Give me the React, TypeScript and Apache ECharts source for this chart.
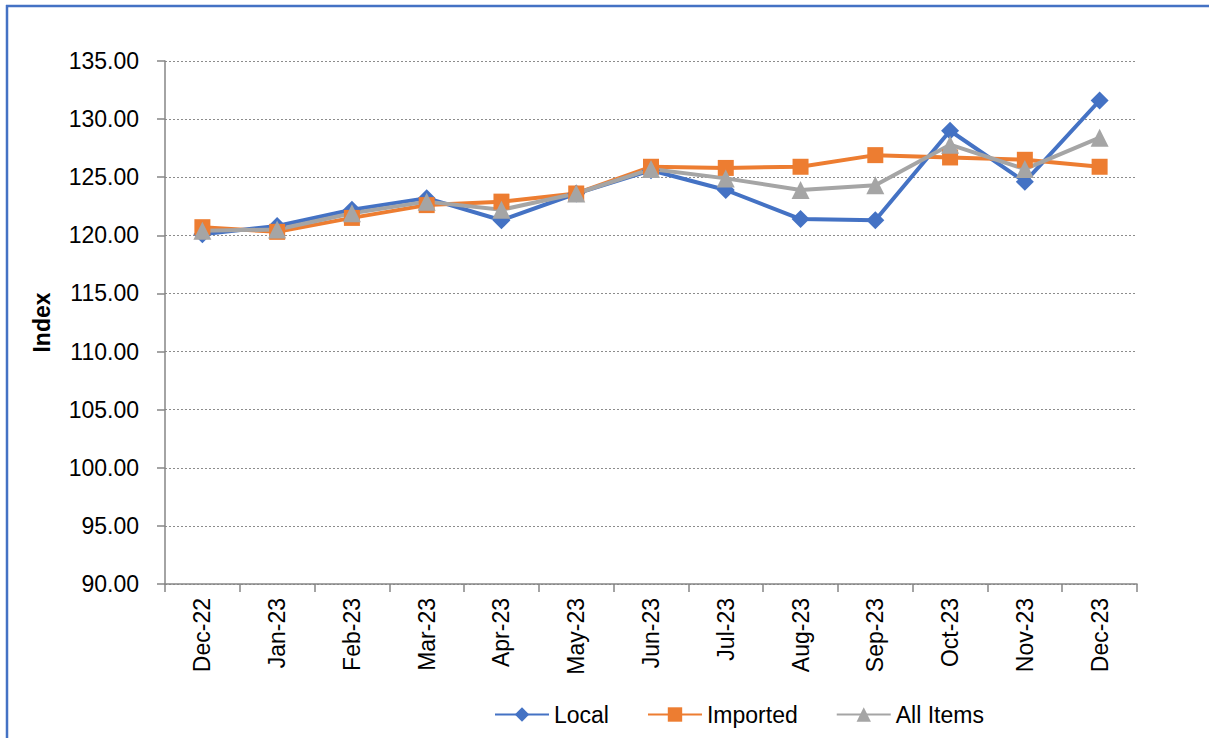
import React, { useEffect, useRef } from "react";
import * as echarts from "echarts";

const categories = ["Dec-22", "Jan-23", "Feb-23", "Mar-23", "Apr-23", "May-23", "Jun-23", "Jul-23", "Aug-23", "Sep-23", "Oct-23", "Nov-23", "Dec-23"];
const localValues = [120.1, 120.8, 122.2, 123.2, 121.3, 123.6, 125.6, 123.9, 121.4, 121.3, 129.0, 124.6, 131.6];
const importedValues = [120.7, 120.3, 121.5, 122.6, 122.9, 123.6, 125.9, 125.8, 125.9, 126.9, 126.7, 126.5, 125.9];
const allItemsValues = [120.4, 120.5, 121.9, 122.9, 122.2, 123.6, 125.7, 124.9, 123.9, 124.3, 127.8, 125.7, 128.4];

const FONT = "'Liberation Sans', Arial, sans-serif";

export default function App() {
  const ref = useRef<HTMLDivElement>(null);
  useEffect(() => {
    if (!ref.current) return;
    const chart = echarts.init(ref.current, undefined, { renderer: "svg" });
    const mk = (name: string, data: number[], color: string, symbol: string, size: number) => ({
      name,
      type: "line",
      data,
      symbol,
      symbolSize: size,
      showAllSymbol: true,
      lineStyle: { color, width: 4 },
      itemStyle: { color },
    });
    chart.setOption({
      animation: false,
      backgroundColor: "#ffffff",
      textStyle: { fontFamily: FONT },
      grid: { left: 165, right: 72, top: 61, bottom: 154 },
      xAxis: {
        type: "category",
        data: categories,
        boundaryGap: true,
        axisLine: { lineStyle: { color: "#868686", width: 1.5 } },
        axisTick: { show: true, interval: 0, length: 8, lineStyle: { color: "#868686", width: 1.5 } },
        axisLabel: { rotate: 90, interval: 0, fontSize: 23, color: "#000", margin: 14, fontFamily: FONT },
      },
      yAxis: {
        type: "value",
        min: 90,
        max: 135,
        interval: 5,
        name: "Index",
        nameLocation: "middle",
        nameGap: 112,
        nameRotate: 90,
        nameTextStyle: { fontSize: 23, fontWeight: "bold", color: "#000", fontFamily: FONT },
        axisLine: { show: true, lineStyle: { color: "#868686", width: 1.5 } },
        axisTick: { show: true, length: 8, lineStyle: { color: "#868686", width: 1.5 } },
        axisLabel: { fontSize: 23, color: "#000", margin: 26, fontFamily: FONT, formatter: (v: number) => v.toFixed(2) },
        splitLine: { show: true, lineStyle: { color: "#8c8c8c", type: [2, 2], width: 1 } },
      },
      legend: {
        left: 489,
        top: 698,
        itemWidth: 54,
        itemHeight: 18,
        itemGap: 38,
        textStyle: { fontSize: 23, color: "#000", fontFamily: FONT },
        data: ["Local", "Imported", "All Items"],
      },
      series: [
        mk("Local", localValues, "#4472C4", "diamond", 18),
        mk("Imported", importedValues, "#ED7D31", "rect", 16),
        mk("All Items", allItemsValues, "#A5A5A5", "triangle", 18),
      ],
      graphic: [
        { type: "line", shape: { x1: 7, y1: 5, x2: 7, y2: 738 }, style: { stroke: "#4472C4", lineWidth: 2.5 } },
        { type: "line", shape: { x1: 6, y1: 6, x2: 1209, y2: 6 }, style: { stroke: "#4472C4", lineWidth: 2.5 } },
      ],
    });
    return () => chart.dispose();
  }, []);
  return <div ref={ref} style={{ position: "fixed", left: 0, top: 0, width: 1209, height: 738 }} />;
}
